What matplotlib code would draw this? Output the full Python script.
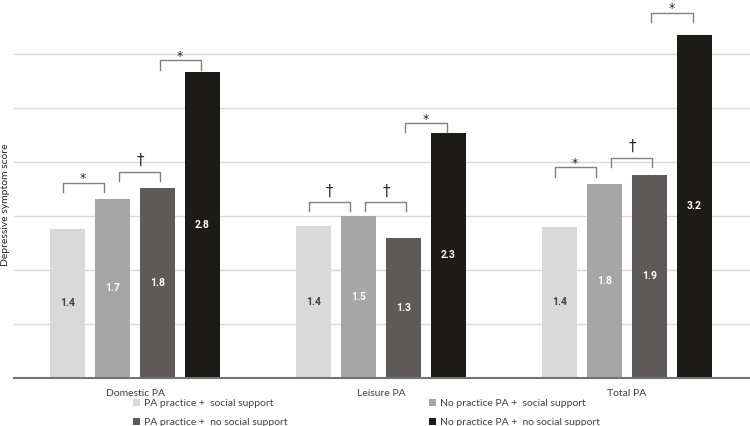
import matplotlib
matplotlib.use('Agg')
import matplotlib.pyplot as plt
import numpy as np

plt.rcParams['font.family'] = ['Lato', 'DejaVu Sans']

groups = ['Domestic PA', 'Leisure PA', 'Total PA']
series = ['PA practice +  social support',
          'No practice PA +  social support',
          'PA practice +  no social support',
          'No practice PA +  no social support']
values = [
    [1.38, 1.41, 1.40],   # PA practice + social support
    [1.66, 1.50, 1.80],   # No practice PA + social support
    [1.76, 1.30, 1.88],   # PA practice + no social support
    [2.83, 2.27, 3.18],   # No practice PA + no social support
]
# significance brackets: (group, left bar, bracket top, symbol)
sig_group = [0, 0, 0, 1, 1, 1, 2, 2, 2]
sig_left = [0, 1, 2, 0, 1, 2, 0, 1, 2]
sig_top = [1.81, 1.91, 2.94, 1.63, 1.63, 2.36, 1.95, 2.04, 3.38]
sig_mark = ['*', '†', '*', '†', '†', '*', '*', '†', '*']

colors = ['#d9d9d9', '#a6a6a6', '#5e5a59', '#1c1b17']
text_colors = ['#404040', 'white', 'white', 'white']

fig = plt.figure(figsize=(7.5, 4.26), dpi=100)
ax = fig.add_axes([14 / 750, 48 / 426, 1 - 14 / 750, 378 / 426])

x = np.arange(len(groups))
step = 0.183
width = 0.142
offsets = (np.arange(4) - 1.5) * step

handles = []
for i in range(4):
    bars = ax.bar(x + offsets[i], values[i], width, color=colors[i], label=series[i], zorder=2)
    handles.append(bars)
    for b, v in zip(bars, values[i]):
        ax.text(b.get_x() + b.get_width() / 2, v / 2, f'{v:.1f}', ha='center', va='center',
                fontsize=7.5, fontweight='bold', family=['Roboto', 'DejaVu Sans'],
                color=text_colors[i], zorder=3)

bw = 0.167
shift = [-0.028, 0.02, 0.0]
tip = 0.085
for g, l, top, m in zip(sig_group, sig_left, sig_top, sig_mark):
    mid = x[g] + (offsets[l] + offsets[l + 1]) / 2 + shift[l]
    x0, x1 = mid - bw / 2, mid + bw / 2
    ax.plot([x0, x0, x1, x1], [top - tip, top, top, top - tip], color='#808080', lw=1.0, zorder=3)
    if m == '*':
        ax.text(mid, top + 0.005, m, ha='center', va='baseline', fontsize=9,
                family='DejaVu Sans', color='#262626')
    else:
        ax.text(mid, top + 0.06, m, ha='center', va='baseline', fontsize=11,
                family='DejaVu Sans', color='#262626')

ax.set_xlim(-0.492, 2.5)
ax.set_ylim(0, 3.5)
ax.set_yticks(np.arange(0.5, 3.01, 0.5))
ax.yaxis.grid(True, color='#d9d9d9', lw=1, zorder=0)
ax.tick_params(axis='y', left=False, labelleft=False)
ax.set_xticks(x)
ax.set_xticklabels(groups, fontsize=7.5, color='#404040')
ax.tick_params(axis='x', length=0, pad=8)
for s in ['top', 'right', 'left']:
    ax.spines[s].set_visible(False)
ax.spines['bottom'].set_color('#737373')
ax.spines['bottom'].set_linewidth(1.5)
ax.spines['bottom'].set_zorder(4)

fig.text(6 / 750, 1 - 205 / 426, 'Depressive symptom score', rotation=90, ha='center', va='center',
         fontsize=7.5, color='#262626')

fig.legend([handles[0], handles[2], handles[1], handles[3]],
           [series[0], series[2], series[1], series[3]],
           ncol=2, loc='upper left', bbox_to_anchor=(133 / 750, 1 - 399 / 426),
           frameon=False, fontsize=7.5, borderpad=0, borderaxespad=0,
           handlelength=0.7, handleheight=0.7, handletextpad=0.4,
           labelspacing=0.9, columnspacing=13.5, labelcolor='#404040')

fig.savefig('out.png', dpi=100)
